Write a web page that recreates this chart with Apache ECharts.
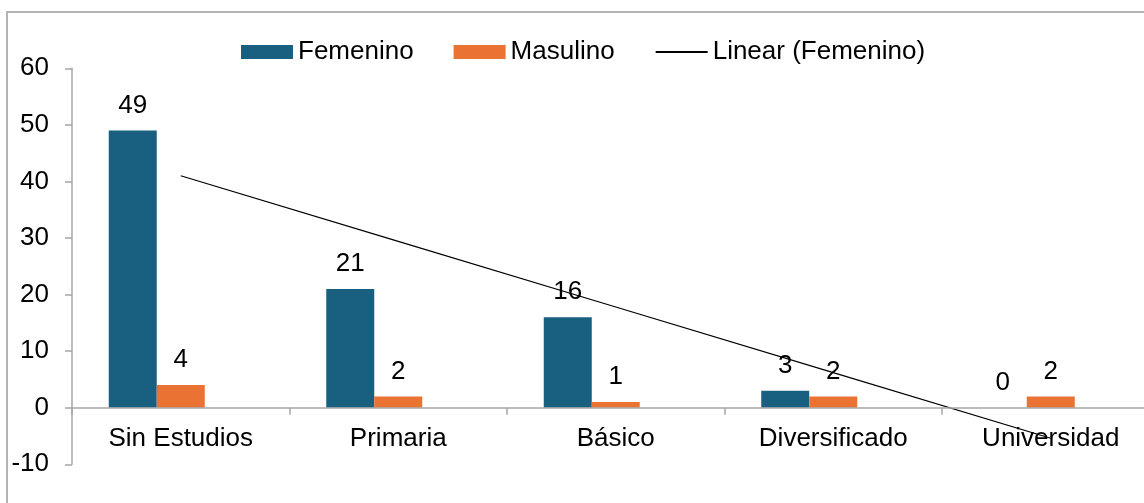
<!DOCTYPE html>
<html>
<head>
<meta charset="utf-8">
<style>
  html, body { margin: 0; padding: 0; background: #fff; }
  #chart { width: 1144px; height: 503px; }
</style>
<script src="https://cdn.jsdelivr.net/npm/echarts@6/dist/echarts.min.js"></script>
</head>
<body>
<div id="chart"></div>
<script>
// Nivel educativo por sexo
const categories = ['Sin Estudios', 'Primaria', 'Básico', 'Diversificado', 'Universidad'];
const femenino = [49, 21, 16, 3, 0];
const masulino = [4, 2, 1, 2, 2];
const yTicks = { min: -10, max: 60, interval: 10 };

// Least-squares linear trend of the Femenino series (x = 1..n)
function linearTrend(values) {
  const n = values.length;
  const xs = values.map((_, i) => i + 1);
  const mx = xs.reduce((a, b) => a + b, 0) / n;
  const my = values.reduce((a, b) => a + b, 0) / n;
  let sxy = 0, sxx = 0;
  for (let i = 0; i < n; i++) {
    sxy += (xs[i] - mx) * (values[i] - my);
    sxx += (xs[i] - mx) * (xs[i] - mx);
  }
  const slope = sxy / sxx;
  const intercept = my - slope * mx;
  return xs.map(x => +(intercept + slope * x).toFixed(4));
}
const tendencia = linearTrend(femenino);

const FONT = 'Liberation Sans, Arial, sans-serif';
const AXIS_GRAY = '#a6a6a6';

// plot box
const GRID = { left: 72, top: 68.3, width: 1087.5, height: 396 };
// category axis sits on the value 0 line
const zeroOffset = -GRID.height * (0 - yTicks.min) / (yTicks.max - yTicks.min);

const chart = echarts.init(document.getElementById('chart'), null, { renderer: 'canvas' });

const barLabel = {
  show: true,
  position: 'top',
  distance: 12,
  color: '#000',
  fontSize: 26,
  fontFamily: FONT
};

chart.setOption({
  animation: false,
  backgroundColor: '#fff',
  textStyle: { fontFamily: FONT },
  graphic: [{
    type: 'rect',
    shape: { x: 7, y: 12, width: 1400, height: 700 },
    style: { fill: 'none', stroke: '#b4b4b4', lineWidth: 2 },
    silent: true,
    z: -10
  }],
  legend: {
    left: 236,
    top: 34,
    itemWidth: 52,
    itemHeight: 14,
    itemGap: 40,
    textStyle: { fontSize: 26, color: '#000', fontFamily: FONT },
    data: [
      { name: 'Femenino', icon: 'rect' },
      { name: 'Masulino', icon: 'rect' },
      { name: 'Linear (Femenino)', itemStyle: { opacity: 0 } }
    ]
  },
  grid: Object.assign({ outerBoundsMode: 'none', containLabel: false }, GRID),
  xAxis: {
    type: 'category',
    data: categories,
    z: 5,
    offset: zeroOffset,
    axisLine: { onZero: false, lineStyle: { color: AXIS_GRAY, width: 1.5 } },
    axisTick: { show: true, length: 7, lineStyle: { color: AXIS_GRAY, width: 1.5 } },
    axisLabel: { margin: 18, color: '#000', fontSize: 26, fontFamily: FONT, interval: 0 },
    splitLine: { show: false }
  },
  yAxis: {
    type: 'value',
    min: yTicks.min,
    max: yTicks.max,
    interval: yTicks.interval,
    axisLine: { show: true, lineStyle: { color: AXIS_GRAY, width: 1.5 } },
    axisTick: { show: true, length: 7, lineStyle: { color: AXIS_GRAY, width: 1.5 } },
    axisLabel: { margin: 23, color: '#000', fontSize: 26, fontFamily: FONT },
    splitLine: { show: false }
  },
  series: [
    {
      name: 'Femenino',
      type: 'bar',
      data: femenino,
      barWidth: 48,
      barGap: '0%',
      itemStyle: { color: '#185f80' },
      label: barLabel
    },
    {
      name: 'Masulino',
      type: 'bar',
      data: masulino,
      barWidth: 48,
      barGap: '0%',
      itemStyle: { color: '#ea7334' },
      label: barLabel
    },
    {
      // empty third slot keeps each pair left of the category centre
      type: 'bar',
      data: categories.map(() => null),
      barWidth: 48,
      barGap: '0%',
      silent: true
    },
    {
      name: 'Linear (Femenino)',
      type: 'line',
      data: tendencia,
      symbol: 'none',
      z: 4,
      lineStyle: { color: '#000', width: 1.2 },
      itemStyle: { color: '#000' }
    }
  ]
});
</script>
</body>
</html>
